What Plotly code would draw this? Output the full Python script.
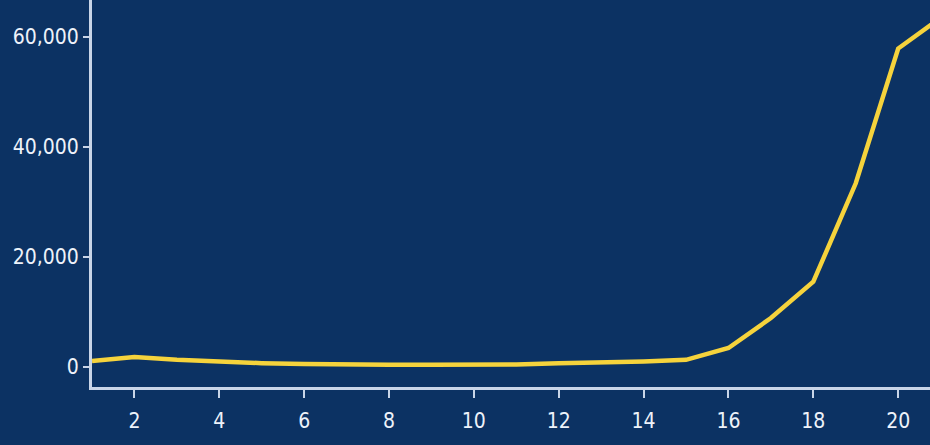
import plotly.graph_objects as go

x_vals = list(range(1, 22))
y_vals = [1100, 1800, 1300, 900, 700, 550, 400, 400, 400, 400, 450, 700, 800, 1000, 1300,
          3450, 8900, 15500, 33400, 57900, 63500]
x_ticks = [2, 4, 6, 8, 10, 12, 14, 16, 18, 20]
y_ticks = [0, 20000, 40000, 60000]
y_tick_text = ["0", "20,000", "40,000", "60,000"]

bg = "#0c3263"
axis_col = "#c9d5e8"
text_col = "#eef2fa"
font_fam = "DejaVu Sans Condensed, Liberation Sans Narrow, sans-serif"

fig = go.Figure()
fig.add_trace(go.Scatter(x=x_vals, y=y_vals, mode="lines",
                         line=dict(color="#f6d33c", width=4.5), cliponaxis=True,
                         showlegend=False, hoverinfo="skip"))

fig.update_layout(
    width=930, height=445,
    margin=dict(l=92, r=0, t=0, b=58),
    paper_bgcolor=bg, plot_bgcolor=bg,
    font=dict(family=font_fam, size=21, color=text_col),
)
fig.update_xaxes(range=[1, 20.75], tickvals=x_ticks, showgrid=False, zeroline=False,
                 showline=True, linecolor=axis_col, linewidth=3,
                 ticks="outside", ticklen=8, tickwidth=2, tickcolor=axis_col,
                 ticklabelstandoff=5,
                 tickfont=dict(family=font_fam, color=text_col, size=21))
fig.update_yaxes(range=[-3636, 66727], tickvals=y_ticks, ticktext=y_tick_text,
                 showgrid=False, zeroline=False,
                 showline=True, linecolor=axis_col, linewidth=3,
                 ticks="outside", ticklen=6, tickwidth=2, tickcolor=axis_col,
                 tickfont=dict(family=font_fam, color=text_col, size=21))

fig.write_html("out.html")
